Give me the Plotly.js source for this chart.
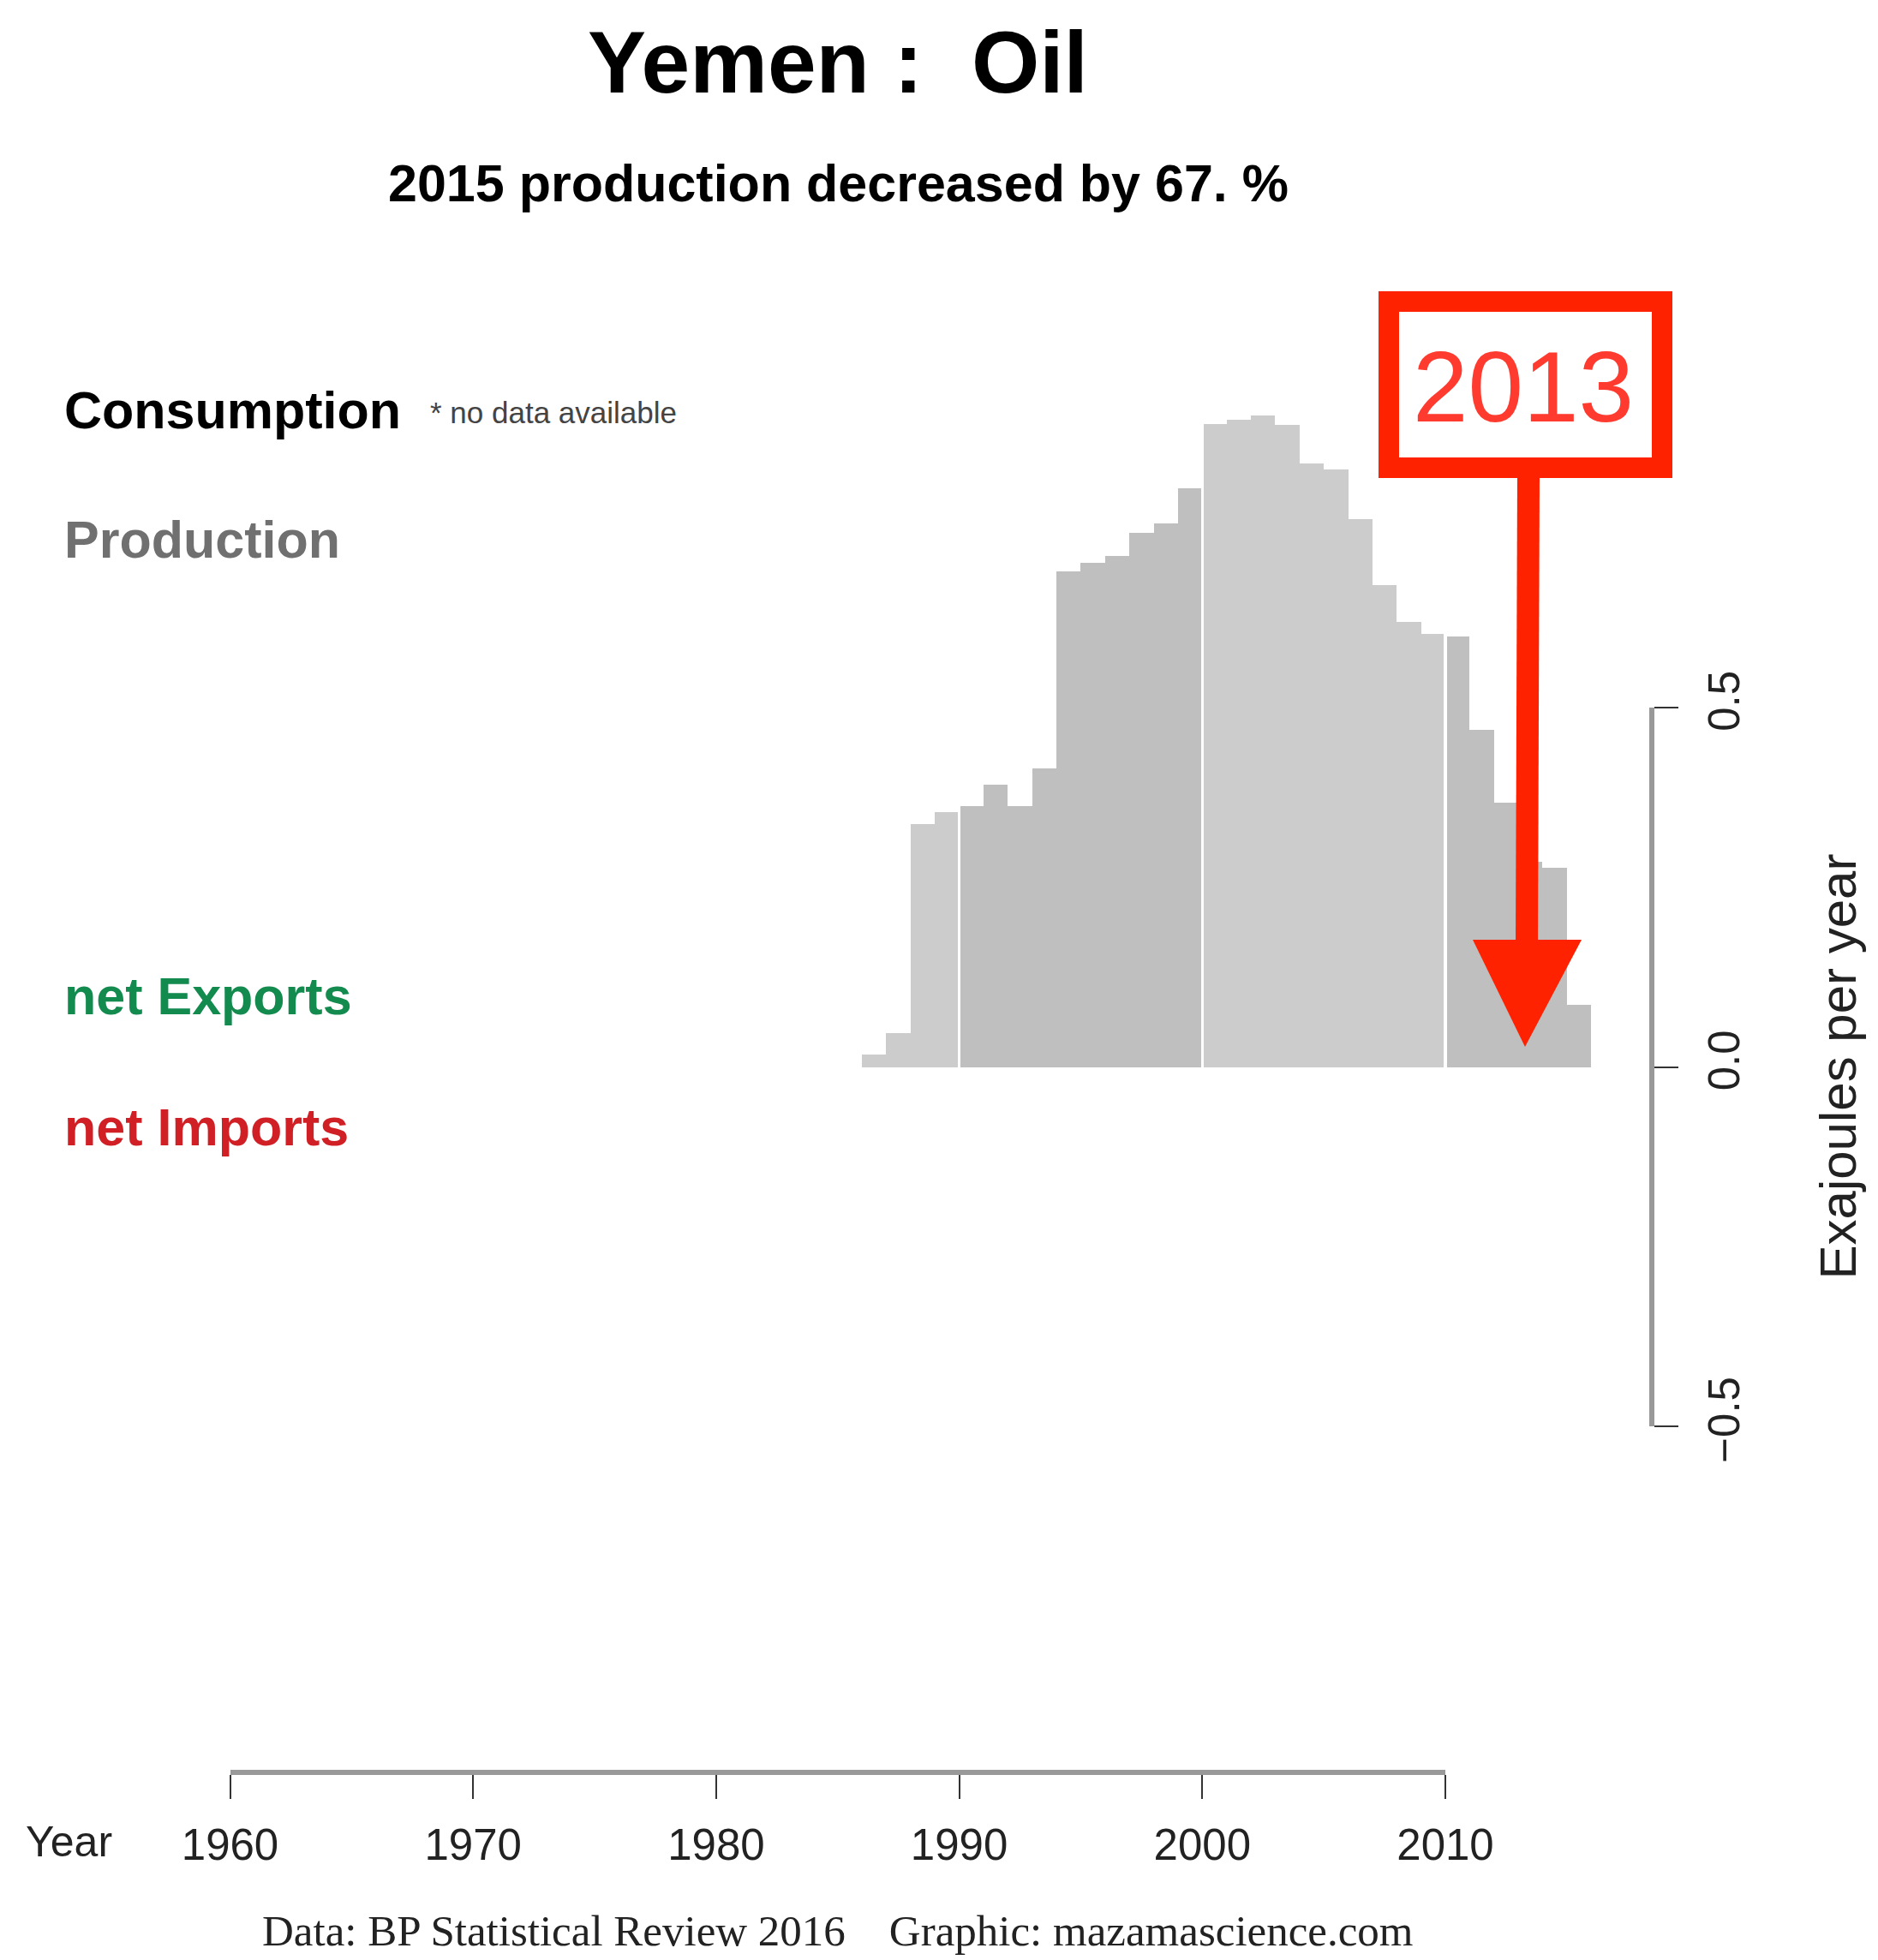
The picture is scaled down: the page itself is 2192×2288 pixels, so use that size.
<!DOCTYPE html>
<html>
<head>
<meta charset="utf-8">
<script src="https://cdn.plot.ly/plotly-3.0.1.min.js"></script>
<style>html,body{margin:0;padding:0;background:#fff;}#chart{width:2192px;height:2288px;}</style>
</head>
<body>
<div id="chart"></div>
<script>
// ---- data ----
const years = [1986,1987,1988,1989,1990,1991,1992,1993,1994,1995,1996,1997,1998,1999,2000,
               2001,2002,2003,2004,2005,2006,2007,2008,2009,2010,2011,2012,2013,2014,2015];
const production = [0.017,0.047,0.338,0.355,0.363,0.393,0.363,0.415,0.689,0.701,0.711,0.743,0.756,0.805,0.895,
                    0.900,0.907,0.893,0.840,0.831,0.762,0.671,0.619,0.603,0.599,0.469,0.368,0.286,0.277,0.087];
const xTickVals = [1960,1970,1980,1990,2000,2010];
const yTickVals = [-0.5,0,0.5];
const titleText = 'Yemen :\u00A0\u00A0Oil';
const subtitleText = '2015 production decreased by 67. %';
const highlightYear = '2013';

// ---- layout geometry ----
const W = 2192, H = 2288;
const px = v => v / W, py = v => 1 - v / H;
// pixel anchors of the scales
const X1960 = 268.5, X2010 = 1687;
const Y_hi = 826, Y_lo = 1665; // +0.5 and -0.5
const pxPerYear = (X2010 - X1960) / 50;
const pxPerUnit = (Y_lo - Y_hi) / 1.0;
const y0px = (Y_hi + Y_lo) / 2;
const xr0 = 1960 - X1960 / pxPerYear, xr1 = xr0 + W / pxPerYear;
const yr1 = y0px / pxPerUnit, yr0 = yr1 - H / pxPerUnit;

const colors = years.map(y => (Math.floor(y / 10) % 2 === 0) ? '#cccccc' : '#bfbfbf');
const gap = 0.12;
const offsets = years.map(y => (y % 10 === 0) ? gap / 2 : 0);
const widths = years.map(y => (y % 10 === 0 || y % 10 === 9) ? 1 - gap / 2 : 1);

const traces = [
  {type:'bar', x: years, y: production, offset: offsets, width: widths,
   marker:{color: colors, line:{width:0}}, xaxis:'x', yaxis:'y', hoverinfo:'x+y', showlegend:false},
  {type:'scatter', x: [], y: [], xaxis:'x2', yaxis:'y2', showlegend:false, hoverinfo:'skip'}
];

const sans = 'Liberation Sans, Arial, Helvetica, sans-serif';
const ann = (text, x, y, size, color, opts) => Object.assign({
  text, x: px(x), y: py(y), xref:'paper', yref:'paper', showarrow:false,
  font:{family: sans, size, color}, xanchor:'left', yanchor:'middle'}, opts || {});

const layout = {
  width: W, height: H,
  margin:{l:0, r:0, t:0, b:0, pad:0},
  paper_bgcolor:'#ffffff', plot_bgcolor:'rgba(0,0,0,0)',
  showlegend:false,
  bargap:0,
  title:{text:'<b>' + titleText + '</b>', x: px(978), xanchor:'center', xref:'paper',
         y: py(72), yanchor:'middle', yref:'paper',
         font:{family: sans, size: 102, color:'#000000'}},
  xaxis:{domain:[0,1], range:[xr0, xr1], visible:false, fixedrange:true},
  yaxis:{domain:[0,1], range:[yr0, yr1], visible:false, fixedrange:true},
  xaxis2:{domain:[px(X1960), px(X2010)], range:[1960, 2010], anchor:'free', position: py(2069),
          side:'bottom', showline:true, linecolor:'#999999', linewidth:6,
          ticks:'outside', ticklen:28, tickwidth:2, tickcolor:'#333333',
          tickvals: xTickVals, tickfont:{family: sans, size: 51, color:'#222222'},
          showgrid:false, zeroline:false, fixedrange:true, ticklabelstandoff: 10},
  yaxis2:{domain:[py(Y_lo), py(Y_hi)], range:[-0.5, 0.5], anchor:'free', position: px(1928),
          side:'right', showline:true, linecolor:'#999999', linewidth:6,
          ticks:'outside', ticklen:28, tickwidth:2, tickcolor:'#333333',
          tickvals: yTickVals, tickformat:'.1f', tickangle:-90,
          tickfont:{family: sans, size: 51, color:'#222222'},
          showgrid:false, zeroline:false, fixedrange:true, ticklabelstandoff: 10},
  annotations:[
    ann('<b>' + subtitleText + '</b>', 978, 214, 61, '#000000', {xanchor:'center'}),
    ann('<b>Consumption</b>', 73, 479, 61, '#000000'),
    ann('* no data available', 500, 482, 35, '#444444'),
    ann('<b>Production</b>', 73, 630, 61, '#707070'),
    ann('<b>net Exports</b>', 73, 1163, 61, '#138a4e'),
    ann('<b>net Imports</b>', 73, 1316, 61, '#d11f26'),
    ann('Exajoules per year', 2145, y0px, 60, '#222222', {xanchor:'center', textangle:-90}),
    ann('Year', 80, 2150, 50, '#222222', {xanchor:'center'}),
    ann('Data: BP Statistical Review 2016\u00A0\u00A0\u00A0\u00A0Graphic: mazamascience.com', 978, 2254, 51, '#222222',
        {xanchor:'center', font:{family:'Liberation Serif, Times New Roman, serif', size:51, color:'#222222'}}),
    ann(highlightYear, 1778, 452, 116, '#ff3b30', {xanchor:'center'})
  ],
  shapes:[
    {type:'rect', xref:'paper', yref:'paper', x0: px(1621), x1: px(1940), y0: py(546), y1: py(352),
     line:{color:'#ff2200', width:24}, fillcolor:'#ffffff', layer:'above'},
    {type:'line', xref:'paper', yref:'paper', x0: px(1784), x1: px(1782), y0: py(556), y1: py(1110),
     line:{color:'#ff2200', width:26}, layer:'above'},
    {type:'path', xref:'paper', yref:'paper',
     path: 'M ' + px(1719) + ' ' + py(1097) + ' L ' + px(1846) + ' ' + py(1097) + ' L ' + px(1780) + ' ' + py(1222) + ' Z',
     fillcolor:'#ff2200', line:{width:0}, layer:'above'}
  ]
};

Plotly.newPlot('chart', traces, layout, {staticPlot:true, displayModeBar:false});
</script>
</body>
</html>
